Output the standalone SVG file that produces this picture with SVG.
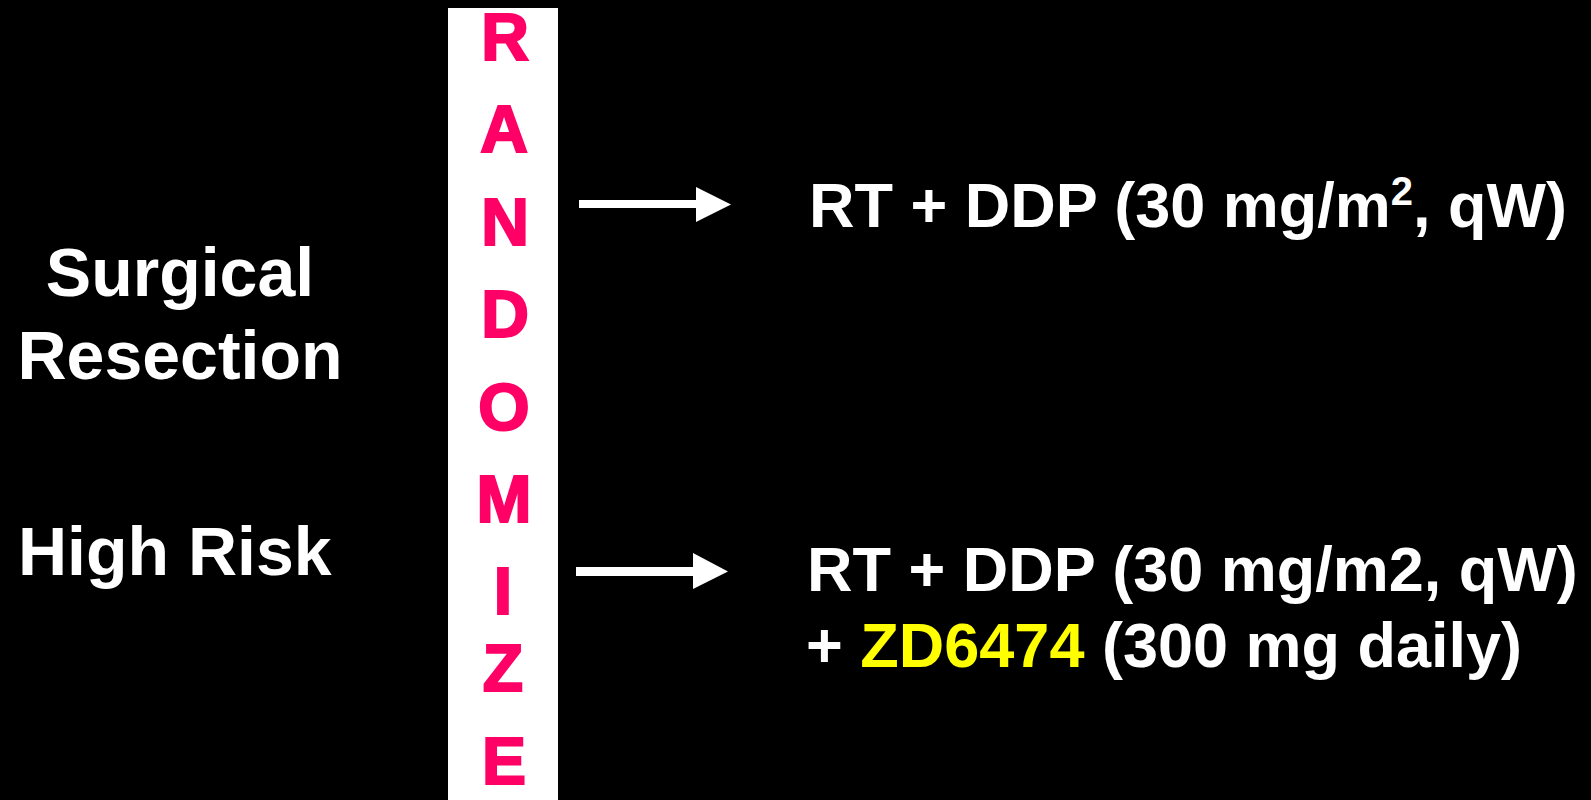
<svg xmlns="http://www.w3.org/2000/svg" width="1591" height="800" viewBox="0 0 1591 800">
<style>
.lbl{font-family:"Liberation Sans",Arial,sans-serif;font-weight:bold;fill:#ffffff;font-size:68px}
.arm{font-family:"Liberation Sans",Arial,sans-serif;font-weight:bold;fill:#ffffff;font-size:63px}
.rnd{font-family:"Liberation Sans",Arial,sans-serif;font-weight:bold;fill:#ff0066;stroke:#ff0066;stroke-width:2.2;font-size:66px;text-anchor:middle}
.hl{fill:#ffff00}
.arrow{fill:#ffffff}
</style>
<rect x="0" y="0" width="1591" height="800" fill="#000000"/>
<g id="left-label">
<text class="lbl" x="180" y="296" text-anchor="middle">Surgical</text>
<text class="lbl" x="180" y="379" text-anchor="middle">Resection</text>
<text class="lbl" x="18" y="575">High Risk</text>
</g>
<g id="randomize">
<rect x="448" y="8" width="110" height="792" fill="#ffffff"/>
<text class="rnd" x="505" y="60">R</text>
<text class="rnd" x="504" y="152">A</text>
<text class="rnd" x="505" y="245">N</text>
<text class="rnd" x="505" y="337">D</text>
<text class="rnd" x="504" y="430">O</text>
<text class="rnd" x="504" y="522">M</text>
<text class="rnd" x="503" y="614">I</text>
<text class="rnd" x="503" y="691">Z</text>
<text class="rnd" x="504" y="784">E</text>
</g>
<g id="connectors">
<polygon class="arrow" points="579,200 696,200 696,187 731,204.5 696,222 696,208 579,208"/>
<polygon class="arrow" points="576,567 693,567 693,553 728,571.5 693,589 693,576 576,576"/>
</g>
<g id="arm1">
<text class="arm" x="809" y="227" font-size="63.5">RT + DDP (30 mg/m<tspan font-size="40" dy="-22">2</tspan><tspan dy="22">, qW)</tspan></text>
</g>
<g id="arm2">
<text class="arm" x="807" y="591">RT + DDP (30 mg/m2, qW)</text>
<text class="arm" x="806" y="667">+ <tspan class="hl">ZD6474</tspan> (300 mg daily)</text>
</g>
</svg>
